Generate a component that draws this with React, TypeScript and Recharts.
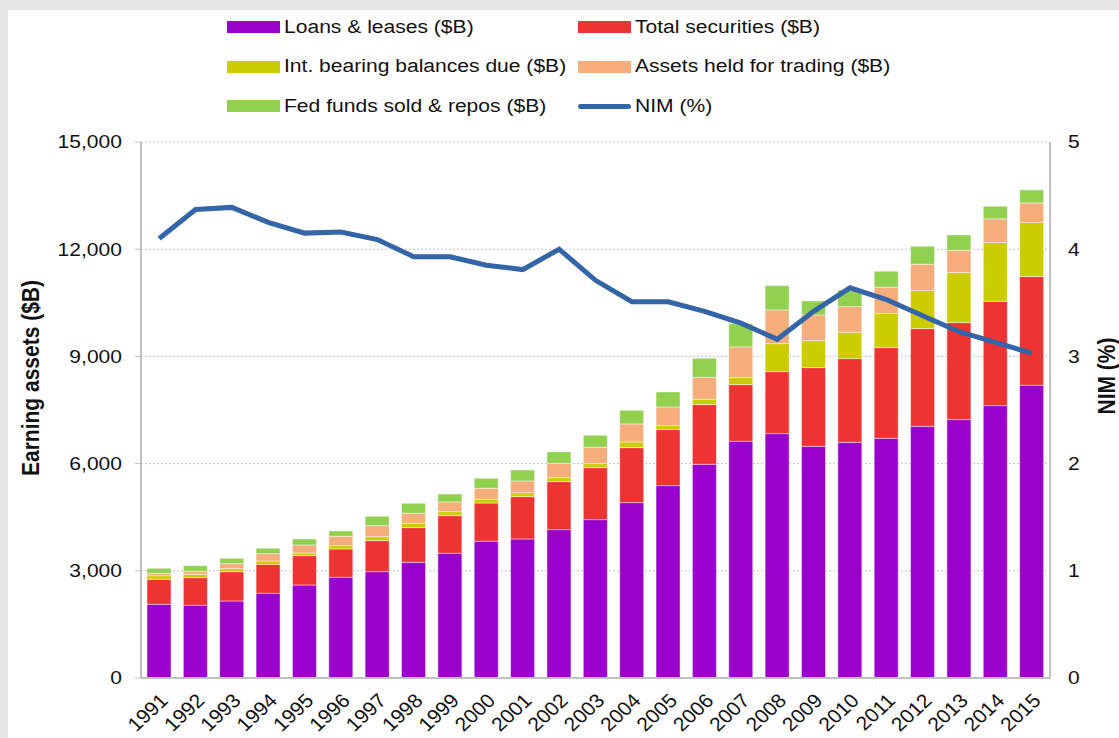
import React from "react";
import { ComposedChart, Bar, Line, XAxis, YAxis, CartesianGrid } from "recharts";

const YEARS = [
  "1991", "1992", "1993", "1994", "1995", "1996", "1997", "1998", "1999", "2000",
  "2001", "2002", "2003", "2004", "2005", "2006", "2007", "2008", "2009", "2010",
  "2011", "2012", "2013", "2014", "2015",
];

// earning assets, $B
const LOANS = [2063, 2035, 2155, 2370, 2603, 2818, 2976, 3238, 3490, 3826, 3891, 4152, 4432, 4908, 5383, 5981, 6624, 6839, 6484, 6596, 6708, 7044, 7231, 7622, 8192];
const SECURITIES = [700, 773, 821, 812, 821, 793, 868, 970, 1054, 1072, 1184, 1344, 1455, 1539, 1568, 1670, 1586, 1735, 2202, 2342, 2538, 2734, 2715, 2921, 3041];
const INT_BEARING = [100, 94, 84, 93, 75, 93, 111, 121, 112, 103, 112, 111, 112, 159, 112, 149, 196, 784, 756, 737, 952, 1064, 1400, 1642, 1512];
const TRADING = [67, 84, 140, 205, 224, 262, 309, 280, 270, 308, 327, 402, 458, 504, 522, 616, 859, 942, 718, 719, 737, 736, 624, 663, 550];
const FED_FUNDS = [140, 158, 150, 150, 168, 149, 262, 280, 224, 280, 308, 317, 335, 382, 420, 532, 653, 681, 392, 466, 448, 504, 429, 354, 364];

// net interest margin, %
const NIM = [4.10, 4.37, 4.39, 4.25, 4.15, 4.16, 4.09, 3.93, 3.93, 3.85, 3.81, 4.00, 3.71, 3.51, 3.51, 3.42, 3.31, 3.16, 3.42, 3.64, 3.53, 3.38, 3.23, 3.13, 3.03];

const LEFT_TICKS = [0, 3000, 6000, 9000, 12000, 15000];
const RIGHT_TICKS = [0, 1, 2, 3, 4, 5];

const SERIES = [
  { key: "loans", name: "Loans & leases ($B)", color: "#9900cc" },
  { key: "securities", name: "Total securities ($B)", color: "#ee3333" },
  { key: "intBearing", name: "Int. bearing balances due ($B)", color: "#cccc00" },
  { key: "trading", name: "Assets held for trading ($B)", color: "#f5ad7b" },
  { key: "fedFunds", name: "Fed funds sold & repos ($B)", color: "#92d050" },
];
const NIM_NAME = "NIM (%)";
const NIM_COLOR = "#3465a9";

const FONT = "'Liberation Sans', Arial, sans-serif";
const STRETCH = 1.17; // the source image is a bit wider than tall

const data = YEARS.map((year, i) => ({
  year,
  loans: LOANS[i],
  securities: SECURITIES[i],
  intBearing: INT_BEARING[i],
  trading: TRADING[i],
  fedFunds: FED_FUNDS[i],
  nim: NIM[i],
}));

function LeftTick({ x, y, payload }: any) {
  return (
    <text
      transform={`translate(${x},${y}) scale(${STRETCH},1)`}
      textAnchor="end"
      dy="0.35em"
      fontSize={18}
      fontFamily={FONT}
      fill="#111"
    >
      {Number(payload.value).toLocaleString("en-US")}
    </text>
  );
}

function RightTick({ x, y, payload }: any) {
  return (
    <text
      transform={`translate(${x},${y}) scale(${STRETCH},1)`}
      textAnchor="start"
      dy="0.35em"
      fontSize={18}
      fontFamily={FONT}
      fill="#111"
    >
      {payload.value}
    </text>
  );
}

function YearTick({ x, y, payload }: any) {
  return (
    <text
      transform={`translate(${x + 5},${y + 19}) scale(1.08,1) rotate(-45)`}
      textAnchor="end"
      dy="0.35em"
      fontSize={19.5}
      fontFamily={FONT}
      fill="#111"
    >
      {payload.value}
    </text>
  );
}

function axisTitle(text: string, cx: number, cy: number) {
  return (
    <text
      transform={`translate(${cx},${cy}) scale(${STRETCH},1) rotate(-90)`}
      textAnchor="middle"
      dy="0.35em"
      fontSize={21}
      fontWeight="bold"
      fontFamily={FONT}
      fill="#111"
    >
      {text}
    </text>
  );
}

export default function App() {
  const legendRows = [
    [SERIES[0], SERIES[1]],
    [SERIES[2], SERIES[3]],
    [SERIES[4], null],
  ];

  return (
    <div style={{ position: "fixed", left: 0, top: 0, width: 1119, height: 738, background: "#e4e5e4", overflow: "hidden" }}>
      <div style={{ position: "absolute", left: 8, top: 10, right: 0, bottom: 0, background: "#fff" }} />

      {/* legend */}
      {legendRows.map((row, r) => (
        <div key={r}>
          {row.map((s, c) => {
            const left = c === 0 ? 227 : 578;
            const top = 27 + r * 39.5;
            return (
              <div key={c} style={{ position: "absolute", left, top: top - 12, height: 24, display: "flex", alignItems: "center" }}>
                {s ? (
                  <span style={{ display: "inline-block", width: 53, height: 12, background: s.color }} />
                ) : (
                  <span style={{ display: "inline-block", width: 53, height: 5, borderRadius: 3, background: NIM_COLOR }} />
                )}
                <span
                  style={{
                    marginLeft: 4,
                    fontFamily: FONT,
                    fontSize: 18,
                    color: "#111",
                    whiteSpace: "nowrap",
                    transform: `scaleX(${STRETCH})`,
                    transformOrigin: "left center",
                  }}
                >
                  {s ? s.name : NIM_NAME}
                </span>
              </div>
            );
          })}
        </div>
      ))}

      <div style={{ position: "absolute", left: 0, top: 0 }}>
        <ComposedChart
          width={1119}
          height={738}
          data={data}
          margin={{ top: 142, right: 0, left: 0, bottom: 0 }}
          barSize={24}
        >
          <CartesianGrid vertical={false} stroke="#c4c4c4" strokeDasharray="2 2" yAxisId="left" />
          <XAxis
            dataKey="year"
            height={60}
            tickLine={false}
            tickSize={0}
            tickMargin={0}
            axisLine={{ stroke: "#c0c0c0", strokeWidth: 2 }}
            interval={0}
            tick={<YearTick />}
          />
          <YAxis
            yAxisId="left"
            width={141}
            domain={[0, 15000]}
            ticks={LEFT_TICKS}
            interval={0}
            tickSize={6}
            tickMargin={13}
            tickLine={{ stroke: "#c0c0c0" }}
            axisLine={{ stroke: "#c0c0c0", strokeWidth: 2 }}
            tick={<LeftTick />}
            label={(p: any) => axisTitle("Earning assets ($B)", 30, 378)}
          />
          <YAxis
            yAxisId="right"
            orientation="right"
            width={69}
            domain={[0, 5]}
            ticks={RIGHT_TICKS}
            interval={0}
            tickLine={false}
            tickSize={0}
            tickMargin={18}
            axisLine={{ stroke: "#c0c0c0", strokeWidth: 2 }}
            tick={<RightTick />}
            label={(p: any) => axisTitle(NIM_NAME, 1106, 376)}
          />
          {SERIES.map((s) => (
            <Bar
              key={s.key}
              yAxisId="left"
              dataKey={s.key}
              name={s.name}
              stackId="assets"
              fill={s.color}
              stroke="#ffffff"
              strokeOpacity={0.45}
              strokeWidth={1}
              isAnimationActive={false}
            />
          ))}
          <Line
            yAxisId="right"
            dataKey="nim"
            name={NIM_NAME}
            type="linear"
            stroke={NIM_COLOR}
            strokeWidth={5}
            dot={false}
            activeDot={false}
            isAnimationActive={false}
          />
        </ComposedChart>
      </div>
    </div>
  );
}
